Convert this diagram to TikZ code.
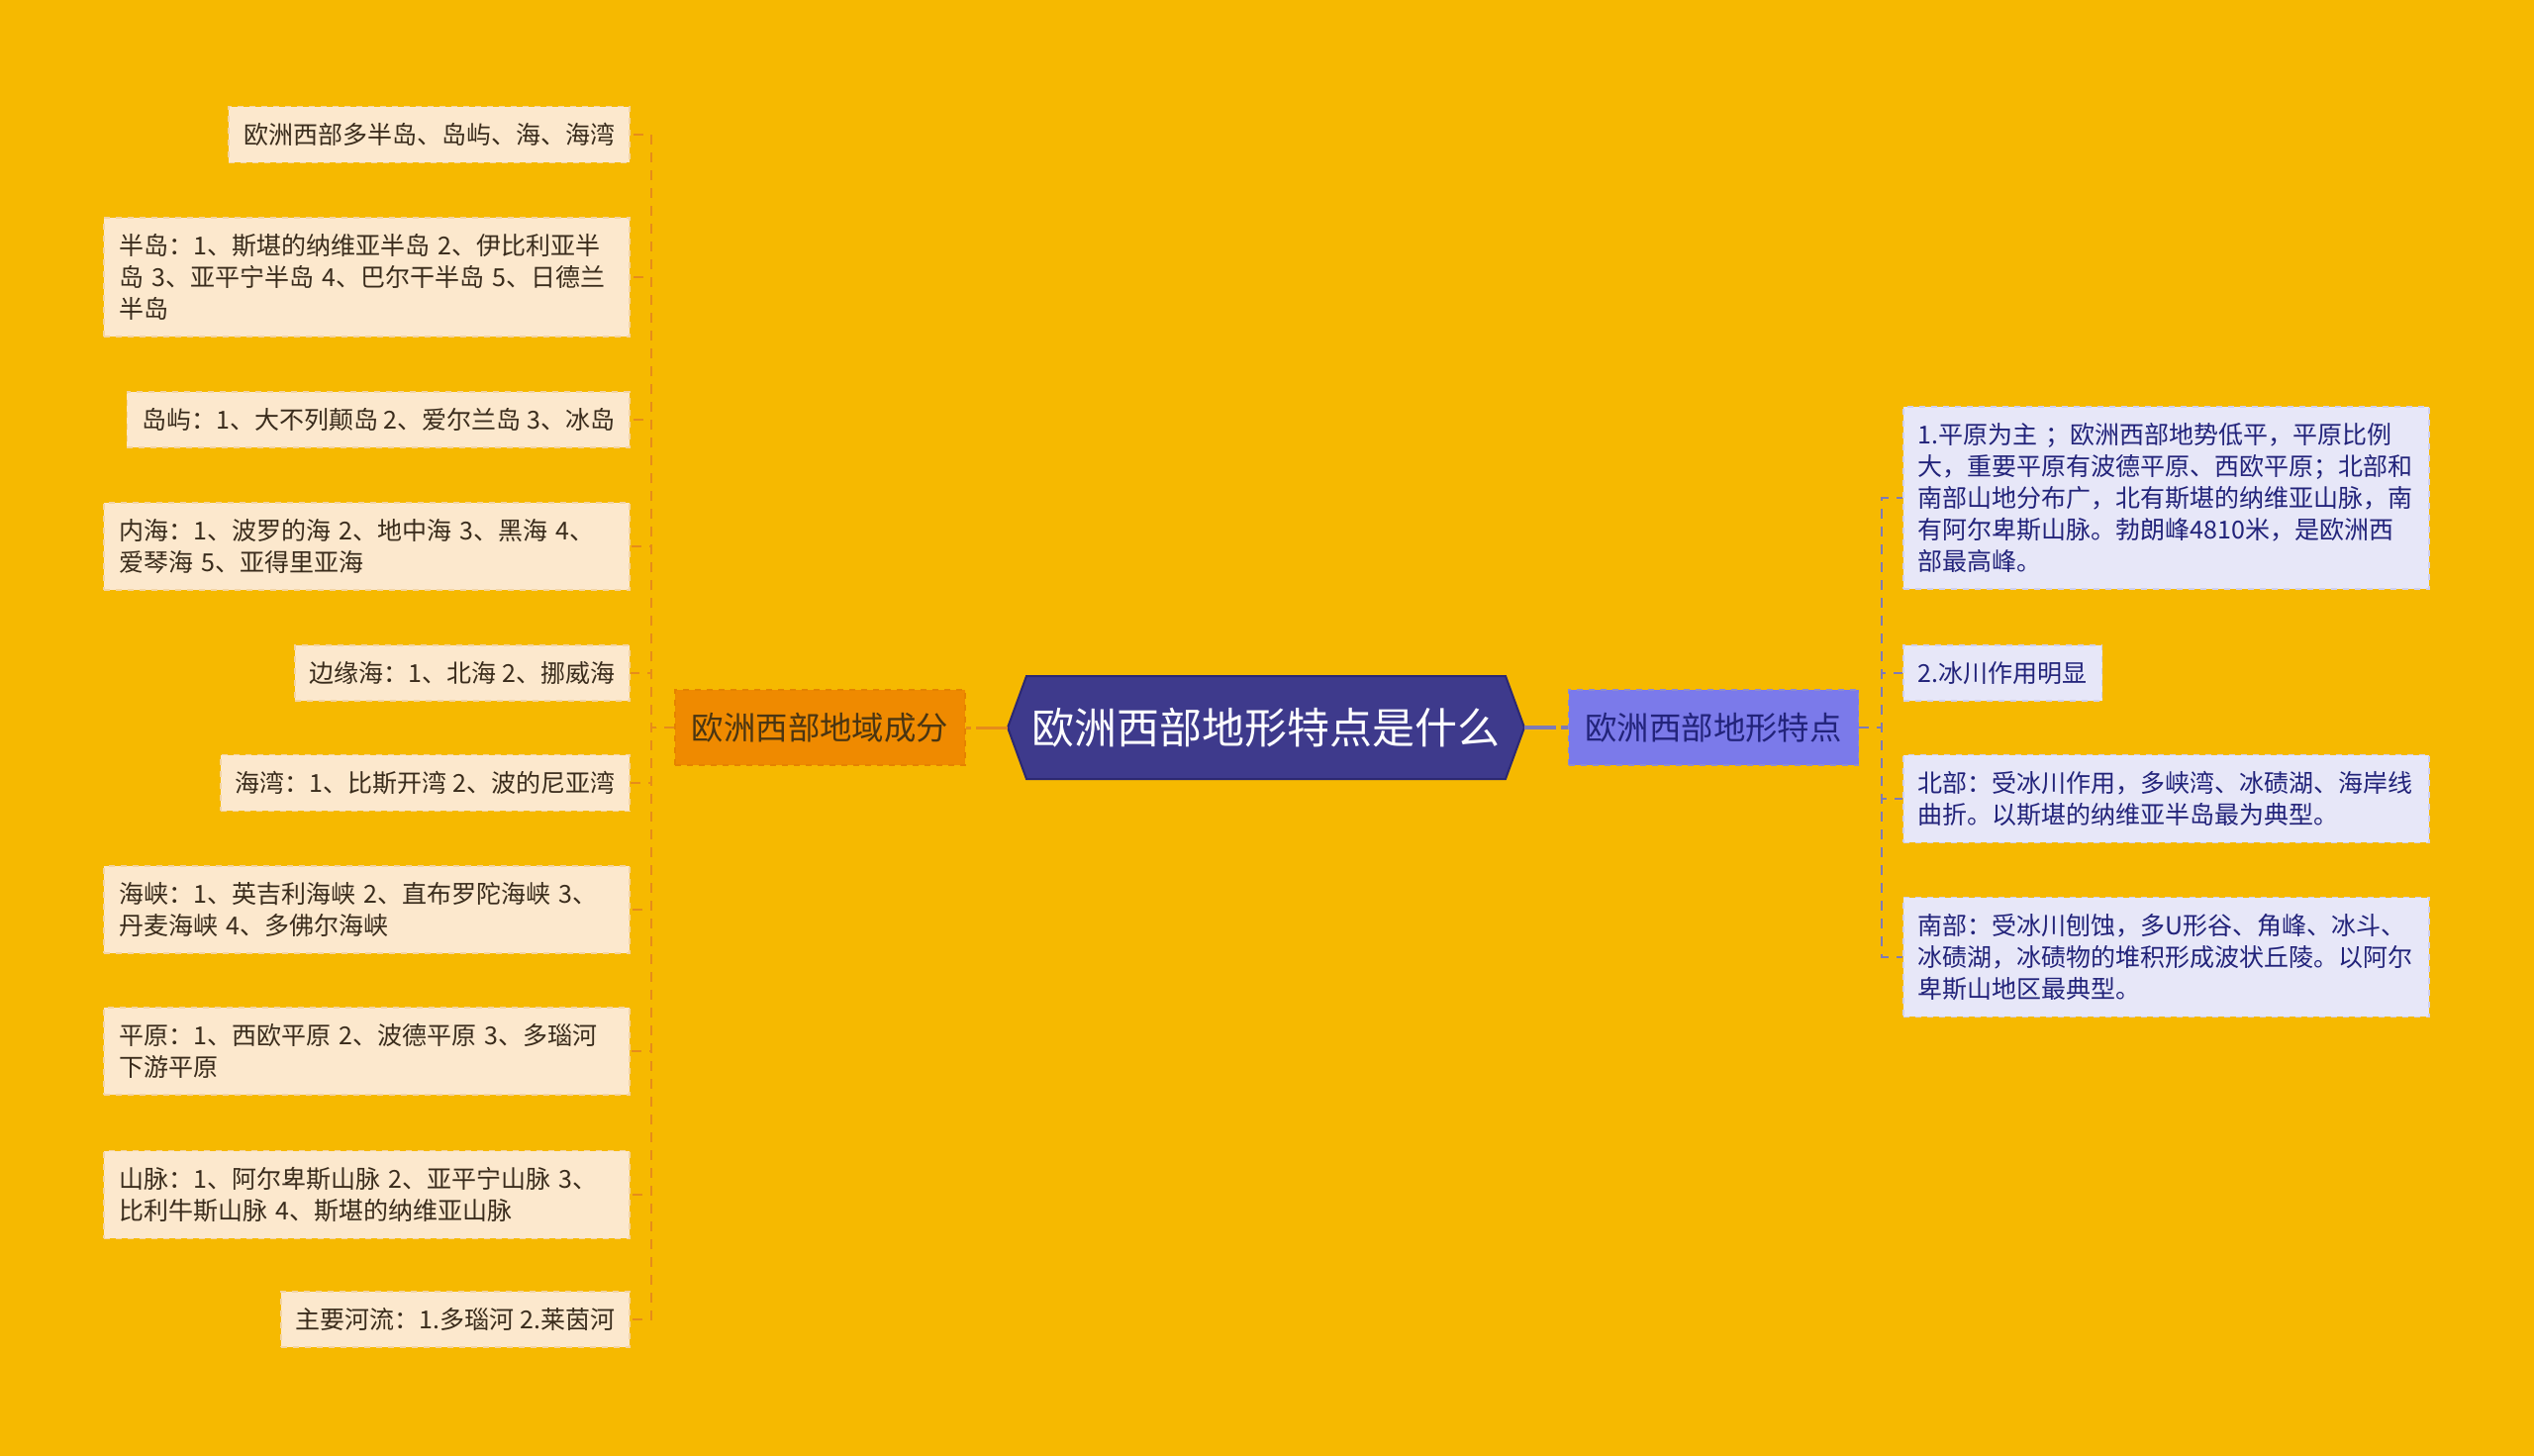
\documentclass[tikz,border=0pt]{standalone}
\usepackage{fontspec}
\setmainfont{Noto Sans CJK SC}
\usepackage{tikz}
\usetikzlibrary{calc}
\definecolor{paper}{HTML}{F6B900}
\definecolor{rootfill}{HTML}{3E3A8C}
\definecolor{rootline}{HTML}{2C2872}
\definecolor{westfill}{HTML}{EF8A00}
\definecolor{westline}{HTML}{E58200}
\definecolor{westtext}{HTML}{4A3512}
\definecolor{westleaf}{HTML}{FCE8CD}
\definecolor{westedge}{HTML}{F3D4A4}
\definecolor{westwire}{HTML}{E68C1A}
\definecolor{leaftext}{HTML}{3A2C1C}
\definecolor{eastfill}{HTML}{7B7AEA}
\definecolor{eastline}{HTML}{8F8DCC}
\definecolor{easttext}{HTML}{22237A}
\definecolor{eastleaf}{HTML}{E7E7F8}
\definecolor{eastedge}{HTML}{D0D0EE}
\definecolor{eastwire}{HTML}{7E7BB6}

\begin{document}
\begin{tikzpicture}[x=0.5pt, y=-0.5pt,
  leaf/.style={rectangle, inner xsep=7.5pt, inner ysep=8.3pt, align=left,
    line width=0.8pt, dashed, font=\fontsize{12.5}{16}\selectfont},
  westbox/.style={leaf, fill=westleaf, draw=westedge, text=leaftext, anchor=east},
  eastbox/.style={leaf, fill=eastleaf, draw=eastedge, text=easttext, anchor=west},
  wide/.style={text width=250.5pt},
  branch/.style={rectangle, minimum width=146.5pt, minimum height=38pt,
    line width=0.8pt, dashed, font=\fontsize{16.2}{19}\selectfont},
  westdash/.style={westwire, line width=1pt, dash pattern=on 5pt off 4pt},
  eastdash/.style={eastwire, line width=1pt, dash pattern=on 5pt off 4pt}]
  \useasboundingbox (0,0) rectangle (2560,1471);
  \fill[paper] (0,0) rectangle (2560,1471);

  % centre topic
  \coordinate (c) at (1279,735);
  \coordinate (rootW) at ($(c)+(-261,0)$);
  \coordinate (rootE) at ($(c)+(261,0)$);
  \filldraw[fill=rootfill, draw=rootline, line width=1pt] (rootW) -- ($(c)+(-242,-52)$)
    -- ($(c)+(242,-52)$) -- (rootE) -- ($(c)+(242,52)$) -- ($(c)+(-242,52)$) -- cycle;
  \node[text=white, font=\fontsize{21.5}{25}\selectfont] (root) at (c) {欧洲西部地形特点是什么};

  % two branches
  \node[branch, fill=westfill, draw=westline, text=westtext] (west) at (828.5,735) {欧洲西部地域成分};
  \node[branch, fill=eastfill, draw=eastline, text=easttext] (east) at (1731,735) {欧洲西部地形特点};
  \draw[westwire, line width=1.5pt, dash pattern=on 16pt off 2.5pt] (rootW) -- (west.east);
  \draw[eastwire, line width=2pt, dash pattern=on 16pt off 2.5pt] (rootE) -- (east.west);

  % left leaves
  \node[westbox] (w1) at (637,136) {欧洲西部多半岛、岛屿、海、海湾};
  \node[westbox, wide] (w2) at (637,280) {半岛：1、斯堪的纳维亚半岛 2、伊比利亚半\\岛 3、亚平宁半岛 4、巴尔干半岛 5、日德兰\\半岛};
  \node[westbox] (w3) at (637,424) {岛屿：1、大不列颠岛 2、爱尔兰岛 3、冰岛};
  \node[westbox, wide] (w4) at (637,552) {内海：1、波罗的海 2、地中海 3、黑海 4、\\爱琴海 5、亚得里亚海};
  \node[westbox] (w5) at (637,680) {边缘海：1、北海 2、挪威海};
  \node[westbox] (w6) at (637,791) {海湾：1、比斯开湾 2、波的尼亚湾};
  \node[westbox, wide] (w7) at (637,919) {海峡：1、英吉利海峡 2、直布罗陀海峡 3、\\丹麦海峡 4、多佛尔海峡};
  \node[westbox, wide] (w8) at (637,1062) {平原：1、西欧平原 2、波德平原 3、多瑙河\\下游平原};
  \node[westbox, wide] (w9) at (637,1207) {山脉：1、阿尔卑斯山脉 2、亚平宁山脉 3、\\比利牛斯山脉 4、斯堪的纳维亚山脉};
  \node[westbox] (w10) at (637,1333) {主要河流：1.多瑙河 2.莱茵河};
  \foreach \n in {1,...,10}
    \draw[westdash] (west.west) -- ++(-23,0) |- (w\n.east);

  % right leaves
  \node[eastbox, wide] (e1) at (1922,503) {1.平原为主 ；欧洲西部地势低平，平原比例\\大，重要平原有波德平原、西欧平原；北部和\\南部山地分布广，北有斯堪的纳维亚山脉，南\\有阿尔卑斯山脉。勃朗峰4810米，是欧洲西\\部最高峰。};
  \node[eastbox] (e2) at (1922,680) {2.冰川作用明显};
  \node[eastbox, wide] (e3) at (1922,807) {北部：受冰川作用，多峡湾、冰碛湖、海岸线\\曲折。以斯堪的纳维亚半岛最为典型。};
  \node[eastbox, wide] (e4) at (1922,967) {南部：受冰川刨蚀，多U形谷、角峰、冰斗、\\冰碛湖，冰碛物的堆积形成波状丘陵。以阿尔\\卑斯山地区最典型。};
  \foreach \n in {1,...,4}
    \draw[eastdash] (east.east) -- ++(23,0) |- (e\n.west);
\end{tikzpicture}
\end{document}
